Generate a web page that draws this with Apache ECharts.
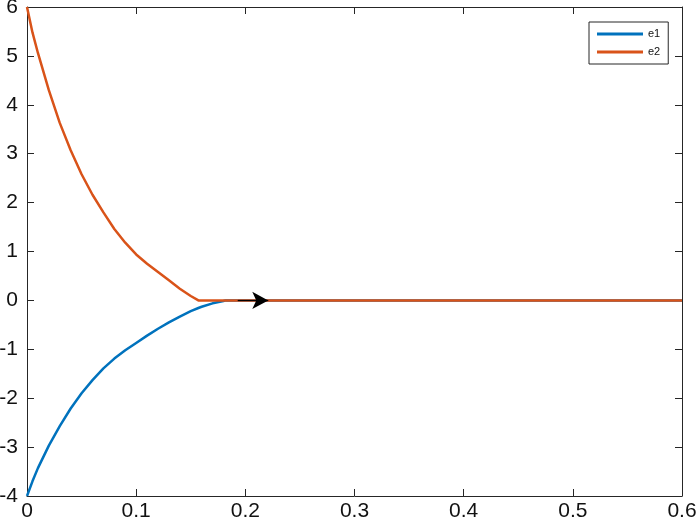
<!DOCTYPE html>
<html>
<head>
<meta charset="utf-8">
<script src="https://cdn.jsdelivr.net/npm/echarts@6/dist/echarts.min.js"></script>
<style>
  html, body { margin: 0; padding: 0; background: #fff; }
  #chart { width: 697px; height: 522px; }
</style>
</head>
<body>
<div id="chart"></div>
<script>
// time samples and the two error signals
const tData = [0, 0.005, 0.01, 0.02, 0.03, 0.04, 0.05, 0.06, 0.07, 0.08, 0.09, 0.10,
  0.11, 0.12, 0.13, 0.14, 0.15, 0.157, 0.16, 0.17, 0.18, 0.182, 0.2, 0.6];
const e1Data = [-4, -3.7, -3.43, -2.97, -2.57, -2.21, -1.9, -1.63, -1.39, -1.19, -1.02, -0.87,
  -0.72, -0.58, -0.45, -0.33, -0.22, -0.155, -0.13, -0.06, -0.012, 0, 0, 0];
const e2Data = [6, 5.48, 5.06, 4.3, 3.63, 3.07, 2.58, 2.16, 1.8, 1.46, 1.18, 0.94,
  0.75, 0.58, 0.41, 0.24, 0.09, 0, 0, 0, 0, 0, 0, 0];
const seriesNames = ["e1", "e2"];
// arrow drawn on the zero line
const arrowStart = [0.193, 0];
const arrowEnd = [0.221, 0];

const axisColor = "#262626";
const labelFont = { color: "#111", fontSize: 21, fontFamily: "Liberation Sans" };

const chart = echarts.init(document.getElementById("chart"));
const option = {
  animation: false,
  grid: { left: 27, right: 15, top: 7, bottom: 26, containLabel: false, outerBoundsMode: "none" },
  legend: {
    data: seriesNames,
    left: 589,
    top: 22,
    orient: "vertical",
    icon: "rect",
    itemWidth: 46,
    itemHeight: 3,
    itemGap: 6,
    padding: [6, 8, 6, 8],
    borderColor: axisColor,
    borderWidth: 1,
    backgroundColor: "#fff",
    textStyle: { color: "#111", fontSize: 11, fontFamily: "Liberation Sans", lineHeight: 12 },
  },
  xAxis: [
    {
      type: "value",
      min: 0,
      max: 0.6,
      interval: 0.1,
      axisLine: { onZero: false, lineStyle: { color: axisColor } },
      axisTick: { inside: true, length: 7, lineStyle: { color: axisColor } },
      axisLabel: Object.assign({ margin: 5 }, labelFont),
      splitLine: { show: false },
    },
    {
      type: "value",
      position: "top",
      min: 0,
      max: 0.6,
      interval: 0.1,
      axisLine: { onZero: false, lineStyle: { color: axisColor } },
      axisTick: { inside: true, length: 7, lineStyle: { color: axisColor } },
      axisLabel: { show: false },
      splitLine: { show: false },
    },
  ],
  yAxis: [
    {
      type: "value",
      min: -4,
      max: 6,
      interval: 1,
      axisLine: { show: true, onZero: false, lineStyle: { color: axisColor } },
      axisTick: { show: true, inside: true, length: 7, lineStyle: { color: axisColor } },
      axisLabel: Object.assign({ margin: 9, padding: [4, 0, 0, 0] }, labelFont),
      splitLine: { show: false },
    },
    {
      type: "value",
      position: "right",
      min: -4,
      max: 6,
      interval: 1,
      axisLine: { show: true, onZero: false, lineStyle: { color: axisColor } },
      axisTick: { show: true, inside: true, length: 7, lineStyle: { color: axisColor } },
      axisLabel: { show: false },
      splitLine: { show: false },
    },
  ],
  series: [
    {
      name: "e1",
      type: "line",
      data: tData.map((t, i) => [t, e1Data[i]]),
      showSymbol: false,
      color: "#0072BD",
      lineStyle: { width: 2.5, color: "#0072BD" },
    },
    {
      name: "e2",
      type: "line",
      data: tData.map((t, i) => [t, e2Data[i]]),
      showSymbol: false,
      color: "#D95319",
      lineStyle: { width: 2.5, color: "#D95319" },
    },
    {
      name: "arrow",
      type: "line",
      data: [],
      z: 5,
      markLine: {
        silent: true,
        symbol: ["none", "arrow"],
        symbolSize: [13, 16],
        label: { show: false },
        lineStyle: { color: "#000", width: 1.2, type: "solid" },
        data: [[{ coord: arrowStart }, { coord: arrowEnd }]],
      },
    },
  ],
};
chart.setOption(option);
</script>
</body>
</html>
